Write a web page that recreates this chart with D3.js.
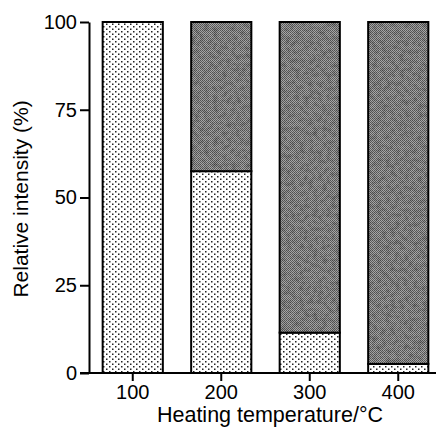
<!DOCTYPE html>
<html>
<head>
<meta charset="utf-8">
<script src="https://cdn.jsdelivr.net/npm/d3@7"></script>
<style>
  body { margin: 0; background: #fff; }
  text { font-family: "Liberation Sans", Arial, sans-serif; fill: #000; }
</style>
</head>
<body>
<div id="chart"></div>
<script>
// Heating temperatures and the share (%) of each component in a stacked bar.
const temperatures = ['100', '200', '300', '400'];
const lowerShare = [100, 57.5, 11.5, 2.6];   // stippled part
const upperShare = [0, 42.5, 88.5, 97.4];    // dark grey part
const yTicks = [0, 25, 50, 75, 100];

const width = 439, height = 433;
const svg = d3.select('#chart').append('svg').attr('width', width).attr('height', height);

// Fill patterns: fine dot stipple and a dithered, mottled grey.
const defs = svg.append('defs');
const dots = defs.append('pattern').attr('id', 'dots')
  .attr('patternUnits', 'userSpaceOnUse').attr('width', 6).attr('height', 5);
dots.append('rect').attr('width', 6).attr('height', 5).attr('fill', '#fff');
dots.append('rect').attr('x', 1).attr('y', 1).attr('width', 1.5).attr('height', 1.5).attr('fill', '#222');
dots.append('rect').attr('x', 4).attr('y', 3.5).attr('width', 1.5).attr('height', 1.5).attr('fill', '#222');

const grey = defs.append('pattern').attr('id', 'grey')
  .attr('patternUnits', 'userSpaceOnUse').attr('width', 2).attr('height', 2);
grey.append('rect').attr('width', 2).attr('height', 2).attr('fill', '#a8a8a8');
grey.append('rect').attr('width', 1).attr('height', 1).attr('fill', '#555');
grey.append('rect').attr('x', 1).attr('y', 1).attr('width', 1).attr('height', 1).attr('fill', '#606060');

// Faint scanned-print mottling laid over the grey
const grain = defs.append('filter').attr('id', 'grain')
  .attr('x', 0).attr('y', 0).attr('width', '100%').attr('height', '100%');
grain.append('feTurbulence').attr('type', 'fractalNoise').attr('baseFrequency', 0.22)
  .attr('numOctaves', 3).attr('seed', 7).attr('result', 'noise');
grain.append('feColorMatrix').attr('in', 'noise').attr('type', 'matrix')
  .attr('values', '0 0 0 0 0  0 0 0 0 0  0 0 0 0 0  1.0 0 0 0 -0.38').attr('result', 'shade');
const merge = grain.append('feMerge');
merge.append('feMergeNode').attr('in', 'SourceGraphic');
merge.append('feMergeNode').attr('in', 'shade');

const x = d3.scaleBand().domain(temperatures).range([88.5, 442.5])
  .paddingInner(0.32).paddingOuter(0.16);
const y = d3.scaleLinear().domain([0, 100]).range([373, 22]);

const stacks = temperatures.map((t, i) => ({ t, lower: lowerShare[i], upper: upperShare[i] }));
const withUpper = stacks.filter(d => d.upper > 0);

const bars = svg.append('g');
bars.selectAll('rect.lower').data(stacks).enter().append('rect')
  .attr('class', 'lower')
  .attr('x', d => x(d.t)).attr('width', x.bandwidth())
  .attr('y', d => y(d.lower)).attr('height', d => y(0) - y(d.lower))
  .attr('fill', 'url(#dots)').attr('stroke', '#000').attr('stroke-width', 2);
bars.selectAll('rect.upper').data(withUpper).enter().append('rect')
  .attr('class', 'upper')
  .attr('x', d => x(d.t)).attr('width', x.bandwidth())
  .attr('y', d => y(d.lower + d.upper)).attr('height', d => y(d.lower) - y(d.lower + d.upper))
  .attr('fill', 'url(#grey)').attr('filter', 'url(#grain)');
bars.selectAll('rect.outline').data(withUpper).enter().append('rect')
  .attr('class', 'outline')
  .attr('x', d => x(d.t)).attr('width', x.bandwidth())
  .attr('y', d => y(d.lower + d.upper)).attr('height', d => y(d.lower) - y(d.lower + d.upper))
  .attr('fill', 'none').attr('stroke', '#000').attr('stroke-width', 2);

// Axes
const yAxis = svg.append('g').attr('transform', 'translate(89,0)')
  .call(d3.axisLeft(y).tickValues(yTicks).tickSize(9).tickSizeOuter(0).tickPadding(3));
yAxis.select('.domain').attr('stroke-width', 2);
yAxis.selectAll('.tick line').attr('stroke-width', 2);
yAxis.selectAll('.tick text').style('font-size', '20px');

const xAxis = svg.append('g').attr('transform', 'translate(0,373)')
  .call(d3.axisBottom(x).tickSize(8).tickSizeOuter(0).tickPadding(4));
xAxis.select('.domain').remove();
xAxis.selectAll('.tick line').attr('stroke-width', 2);
xAxis.selectAll('.tick text').style('font-size', '20px');
svg.append('line').attr('x1', 80).attr('x2', 436).attr('y1', 373).attr('y2', 373)
  .attr('stroke', '#000').attr('stroke-width', 2);

svg.append('text').attr('x', 270).attr('y', 422).attr('text-anchor', 'middle')
  .style('font-size', '21.5px').text('Heating temperature/°C');
svg.append('text').attr('transform', 'translate(28,199) rotate(-90)').attr('text-anchor', 'middle')
  .style('font-size', '21px').text('Relative intensity (%)');
</script>
</body>
</html>
